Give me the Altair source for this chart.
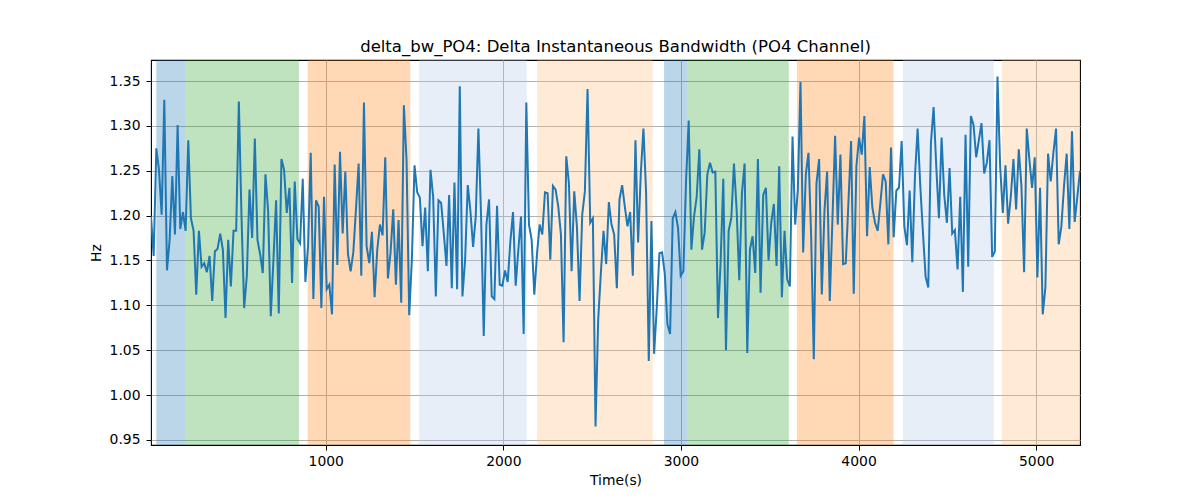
import altair as alt
import numpy as np
import pandas as pd

# ---- data ----
values = [
    # segment 1
    1.199, 1.155, 1.275, 1.251, 1.201, 1.329, 1.139, 1.173, 1.244, 1.179,
    1.301, 1.185, 1.204, 1.183, 1.284, 1.197, 1.183, 1.112, 1.183, 1.143,
    1.147, 1.137, 1.155, 1.105, 1.160, 1.163, 1.180, 1.162, 1.086, 1.173,
    1.121, 1.183, 1.183, 1.327, 1.199, 1.097, 1.133, 1.229, 1.175, 1.286,
    1.173, 1.157, 1.136, 1.246, 1.205, 1.088, 1.151, 1.217, 1.091, 1.263,
    1.251, 1.203, 1.231, 1.125, 1.238, 1.174, 1.169, 1.241, 1.126, 1.166,
    1.270,
    # segment 2
    1.107, 1.217, 1.210, 1.097, 1.221, 1.118, 1.123, 1.090, 1.257, 1.145,
    1.271, 1.180, 1.249, 1.157, 1.138, 1.159, 1.207, 1.258, 1.133, 1.326,
    1.166, 1.147, 1.182, 1.109, 1.162, 1.190, 1.178, 1.265, 1.130, 1.159,
    1.207, 1.123, 1.195, 1.103, 1.323, 1.262, 1.089, 1.151, 1.256, 1.226,
    1.220, 1.166, 1.209, 1.138, 1.251, 1.221, 1.110, 1.217, 1.214, 1.180,
    1.144, 1.223, 1.119, 1.237, 1.118, 1.344, 1.110, 1.151,
    # segment 3
    1.234, 1.205, 1.165, 1.199, 1.297, 1.199, 1.066, 1.190, 1.218, 1.110,
    1.107, 1.211, 1.123, 1.122, 1.139, 1.126, 1.171, 1.204, 1.122, 1.162,
    1.199, 1.068, 1.326, 1.190, 1.173, 1.112, 1.157, 1.190, 1.179, 1.226,
    1.225, 1.151, 1.233, 1.229, 1.210, 1.179, 1.059, 1.266, 1.236, 1.138,
    1.227, 1.188, 1.105, 1.201, 1.227, 1.341, 1.192, 1.197, 0.965, 1.084,
    1.136, 1.183, 1.146, 1.215, 1.190, 1.179, 1.119, 1.218,
    # segment 4
    1.234, 1.210, 1.188, 1.204, 1.133, 1.284, 1.170, 1.247, 1.297, 1.225,
    1.038, 1.194, 1.046, 1.097, 1.158, 1.159, 1.136, 1.079, 1.068, 1.197,
    1.204, 1.186, 1.133, 1.138, 1.238, 1.306, 1.162, 1.199, 1.221, 1.274,
    1.162, 1.181, 1.246, 1.259, 1.248, 1.249, 1.086, 1.149, 1.241, 1.050,
    1.183, 1.197, 1.258, 1.207, 1.128, 1.225, 1.258, 1.047, 1.162, 1.177,
    1.136, 1.263, 1.114, 1.223, 1.231, 1.150, 1.192, 1.213,
    # segment 5
    1.144, 1.255, 1.109, 1.183, 1.129, 1.121, 1.288, 1.190, 1.229, 1.349,
    1.159, 1.246, 1.270, 1.177, 1.040, 1.236, 1.263, 1.112, 1.205, 1.249,
    1.105, 1.196, 1.289, 1.190, 1.268, 1.146, 1.147, 1.214, 1.283, 1.113,
    1.255, 1.287, 1.268, 1.311, 1.177, 1.254, 1.209, 1.192, 1.183, 1.214,
    1.246, 1.238, 1.168, 1.276, 1.176, 1.228, 1.231, 1.283, 1.188, 1.167,
    1.228, 1.148, 1.244, 1.297, 1.233, 1.181, 1.132, 1.120,
    # segment 6
    1.281, 1.321, 1.255, 1.197, 1.287, 1.223, 1.192, 1.253, 1.180, 1.184,
    1.140, 1.221, 1.115, 1.290, 1.143, 1.311, 1.301, 1.265, 1.284, 1.303,
    1.247, 1.259, 1.284, 1.154, 1.160, 1.355, 1.255, 1.203, 1.256, 1.191,
    1.221, 1.263, 1.207, 1.274, 1.233, 1.137, 1.297, 1.262, 1.231, 1.265,
    1.131, 1.231, 1.090, 1.120, 1.269, 1.238, 1.270, 1.297, 1.168, 1.188,
    1.233, 1.269, 1.185, 1.294, 1.193, 1.221, 1.250,
]
t_start, t_end = 16, 5247
times = np.linspace(t_start, t_end, len(values))

band_start = [46, 208, 898, 1526, 2190, 2905, 3037, 3653, 4250, 4807]
band_end = [208, 849, 1476, 2132, 2841, 3037, 3607, 4197, 4762, 5247]
band_phase = ["A", "B", "C", "D", "E", "A", "B", "C", "D", "E"]

phase_domain = ["A", "B", "C", "D", "E"]
phase_colors = ["#1f77b4", "#2ca02c", "#ff7f0e", "#aec7e8", "#ffbb78"]

y_ticks = [0.95, 1.00, 1.05, 1.10, 1.15, 1.20, 1.25, 1.30, 1.35]
x_ticks = [1000, 2000, 3000, 4000, 5000]

line_df = pd.DataFrame({"t": times, "v": values})
band_df = pd.DataFrame({"s": band_start, "e": band_end, "phase": band_phase})

x_scale = alt.Scale(domain=[t_start, t_end], nice=False, zero=False)
y_scale = alt.Scale(domain=[0.9444, 1.3734], nice=False, zero=False)

bands = alt.Chart(band_df).mark_rect(opacity=0.3, clip=True).encode(
    x=alt.X("s:Q", scale=x_scale,
            axis=alt.Axis(values=x_ticks, format="d", title="Time(s)")),
    x2="e:Q",
    color=alt.Color("phase:N", scale=alt.Scale(domain=phase_domain, range=phase_colors),
                    legend=None),
)

line = alt.Chart(line_df).mark_line(color="#1f77b4", strokeWidth=2, clip=True).encode(
    x=alt.X("t:Q", scale=x_scale),
    y=alt.Y("v:Q", scale=y_scale,
            axis=alt.Axis(values=y_ticks, format=".2f", title="Hz", labelPadding=6)),
)

chart = alt.layer(bands, line).properties(
    width=929,
    height=385,
    title=alt.Title("delta_bw_PO4: Delta Instantaneous Bandwidth (PO4 Channel)",
                    fontSize=16.5, font="DejaVu Sans", fontWeight="normal",
                    anchor="middle", offset=5, color="black"),
    autosize=alt.AutoSizeParams(type="none"),
    padding={"left": 143, "top": 52, "right": 112, "bottom": 45},
).configure_view(
    stroke="black", strokeWidth=1.1
).configure_axis(
    domain=False,
    grid=True,
    gridColor="#b0b0b0",
    gridWidth=1,
    tickColor="black",
    tickSize=5,
    tickWidth=1,
    labelFont="DejaVu Sans",
    labelFontSize=13.9,
    labelColor="black",
    labelPadding=4,
    titleFont="DejaVu Sans",
    titleFontSize=13.9,
    titleFontWeight="normal",
    titleColor="black",
    titlePadding=6,
)

chart.save("out.html", embed_options={"renderer": "svg", "actions": False})
